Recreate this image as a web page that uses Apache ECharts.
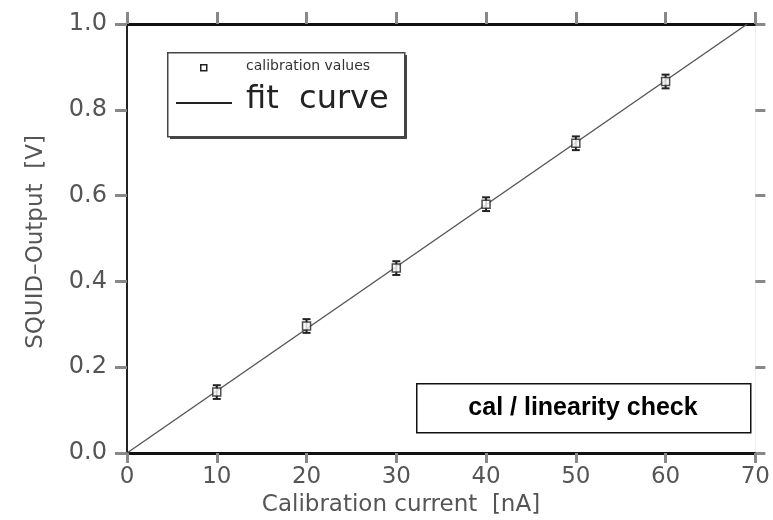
<!DOCTYPE html>
<html>
<head>
<meta charset="utf-8">
<script src="https://cdn.jsdelivr.net/npm/echarts@6/dist/echarts.min.js"></script>
<style>
  html, body { margin: 0; padding: 0; background: #fff; }
  #chart { width: 773px; height: 520px; }
</style>
</head>
<body>
<div id="chart"></div>
<script>
// Calibration points: injected current [nA] vs SQUID output [V]
const currents = [10, 20, 30, 40, 50, 60];
const outputs = [0.142, 0.296, 0.431, 0.580, 0.722, 0.866];
const errors = [0.016, 0.016, 0.016, 0.016, 0.016, 0.016];

// Linear fit endpoints
const fitX = [0, 69.1];
const fitY = [0, 1.0];

// Axis ticks
const xTicks = [0, 10, 20, 30, 40, 50, 60, 70];
const yTicks = [0.0, 0.2, 0.4, 0.6, 0.8, 1.0];

const labelFont = 'DejaVu Sans';
const labelColor = '#555';

const chart = echarts.init(document.getElementById('chart'));

const pointData = currents.map((c, i) => [c, outputs[i]]);
const errData = currents.map((c, i) => [c, outputs[i] - errors[i], outputs[i] + errors[i]]);
const fitData = fitX.map((x, i) => [x, fitY[i]]);

const tickLine = { lineStyle: { color: '#888', width: 3 } };

chart.setOption({
  animation: false,
  backgroundColor: '#fff',
  grid: { left: 127, right: 11, top: 24, bottom: 67 },
  xAxis: [
    {
      type: 'value', position: 'bottom',
      min: xTicks[0], max: xTicks[xTicks.length - 1], interval: 10,
      splitLine: { show: false },
      axisLine: { show: true, onZero: false, lineStyle: { color: '#111', width: 3 } },
      axisTick: { show: true, inside: false, length: 10, ...tickLine },
      axisLabel: { color: labelColor, fontFamily: labelFont, fontSize: 23, margin: 13 }
    },
    {
      type: 'value', position: 'top',
      min: xTicks[0], max: xTicks[xTicks.length - 1], interval: 10,
      splitLine: { show: false },
      axisLine: { show: true, onZero: false, lineStyle: { color: '#111', width: 3 } },
      axisTick: { show: true, inside: false, length: 12, ...tickLine },
      axisLabel: { show: false }
    }
  ],
  yAxis: [
    {
      type: 'value', position: 'left',
      min: yTicks[0], max: yTicks[yTicks.length - 1], interval: 0.2,
      splitLine: { show: false },
      axisLine: { show: true, onZero: false, lineStyle: { color: '#222', width: 2 } },
      axisTick: { show: true, inside: false, length: 12, ...tickLine },
      axisLabel: {
        color: labelColor, fontFamily: labelFont, fontSize: 24, margin: 20,
        formatter: v => v.toFixed(1)
      }
    },
    {
      type: 'value', position: 'right',
      min: yTicks[0], max: yTicks[yTicks.length - 1], interval: 0.2,
      splitLine: { show: false },
      axisLine: { show: true, onZero: false, lineStyle: { color: '#eee', width: 1 } },
      axisTick: { show: true, inside: false, length: 10, ...tickLine },
      axisLabel: { show: false }
    }
  ],
  series: [
    {
      name: 'fit curve', type: 'line', data: fitData,
      showSymbol: false, symbol: 'none',
      lineStyle: { color: '#555', width: 1.4 },
      z: 2
    },
    {
      name: 'error', type: 'custom', data: errData,
      renderItem: (params, api) => {
        const x = api.value(0);
        const lo = api.coord([x, api.value(1)]);
        const hi = api.coord([x, api.value(2)]);
        const cap = 4;
        const style = { stroke: '#222', lineWidth: 2 };
        return {
          type: 'group',
          children: [
            { type: 'line', shape: { x1: lo[0], y1: lo[1], x2: hi[0], y2: hi[1] }, style },
            { type: 'line', shape: { x1: lo[0] - cap, y1: lo[1], x2: lo[0] + cap, y2: lo[1] }, style },
            { type: 'line', shape: { x1: hi[0] - cap, y1: hi[1], x2: hi[0] + cap, y2: hi[1] }, style }
          ]
        };
      },
      z: 3
    },
    {
      name: 'calibration values', type: 'scatter', data: pointData,
      symbol: 'rect', symbolSize: 8,
      itemStyle: { color: '#fff', borderColor: '#222', borderWidth: 1.5 },
      z: 4
    }
  ],
  graphic: [
    // axis titles
    {
      type: 'text', x: 401, y: 505, z: 5,
      style: {
        text: 'Calibration current  [nA]', fontFamily: labelFont, fontSize: 23,
        fill: labelColor, align: 'center', verticalAlign: 'middle'
      }
    },
    {
      type: 'text', x: 36, y: 242, rotation: Math.PI / 2, z: 5,
      style: {
        text: 'SQUID\u2013Output  [V]', fontFamily: labelFont, fontSize: 23,
        fill: labelColor, align: 'center', verticalAlign: 'middle'
      }
    },
    // legend frame with drop shadow
    {
      type: 'rect', left: 170, top: 55, z: 10,
      shape: { width: 237, height: 84 },
      style: { fill: '#444' }
    },
    {
      type: 'rect', left: 167, top: 52, z: 11,
      shape: { width: 237, height: 84 },
      style: { fill: '#fff', stroke: '#444', lineWidth: 1.5 }
    },
    {
      type: 'rect', left: 200, top: 64, z: 12,
      shape: { width: 6, height: 6 },
      style: { fill: '#fff', stroke: '#222', lineWidth: 1.5 }
    },
    {
      type: 'text', left: 246, top: 59, z: 12,
      style: { text: 'calibration values', fontFamily: labelFont, fontSize: 14, fill: '#333' }
    },
    {
      type: 'line', z: 12,
      shape: { x1: 176, y1: 103, x2: 232, y2: 103 },
      style: { stroke: '#222', lineWidth: 2 }
    },
    {
      type: 'text', left: 246, top: 84, z: 12,
      style: { text: 'fit  curve', fontFamily: labelFont, fontSize: 32, fill: '#222' }
    },
    // annotation box
    {
      type: 'rect', left: 416, top: 383, z: 10,
      shape: { width: 334, height: 49 },
      style: { fill: '#fff', stroke: '#111', lineWidth: 1.5 }
    },
    {
      type: 'text', z: 11,
      x: 583, y: 408,
      style: {
        text: 'cal / linearity check', fontFamily: 'Liberation Sans', fontWeight: 'bold',
        fontSize: 25, fill: '#000', align: 'center', verticalAlign: 'middle'
      }
    }
  ]
});
</script>
</body>
</html>
